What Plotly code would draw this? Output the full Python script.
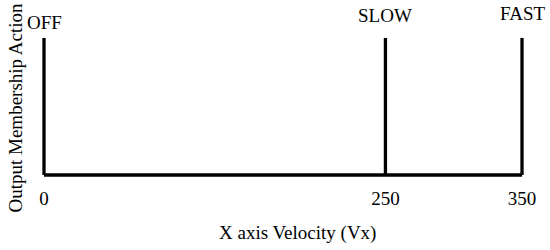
import plotly.graph_objects as go

# membership singletons for the output action
labels = ['OFF', 'SLOW', 'FAST']
velocity = [0, 250, 350]
membership = [1, 1, 1]
tick_text = ['0', '250', '350']

FONT = 'Liberation Serif, Times New Roman, serif'

# vertical spikes, joined with None gaps so they stay one trace
xs, ys = [], []
for v, m in zip(velocity, membership):
    xs += [v, v, None]
    ys += [0, m, None]

fig = go.Figure()
fig.add_trace(go.Scatter(x=xs, y=ys, mode='lines',
                         line=dict(color='black', width=3.3),
                         cliponaxis=False, showlegend=False))
# baseline along the velocity axis
fig.add_trace(go.Scatter(x=[velocity[0], velocity[-1]], y=[0, 0], mode='lines',
                         line=dict(color='black', width=3.3),
                         cliponaxis=False, showlegend=False))

# labels above each spike
yshift = [3, 10, 12]
for v, m, lab, sh in zip(velocity, membership, labels, yshift):
    fig.add_annotation(x=v, y=m, text=lab, showarrow=False,
                       yanchor='bottom', yshift=sh,
                       font=dict(family=FONT, size=19, color='black'))

# axis titles
fig.add_annotation(xref='paper', yref='paper', x=0.5, y=0, xshift=14, yshift=-48,
                   xanchor='center', yanchor='middle',
                   text='X axis Velocity (Vx)', showarrow=False,
                   font=dict(family=FONT, size=19, color='black'))
fig.add_annotation(xref='paper', yref='paper', x=0, y=0.5, xshift=-25, yshift=-1,
                   xanchor='center', yanchor='middle',
                   text='Output Membership Action', textangle=-90, showarrow=False,
                   font=dict(family=FONT, size=19, color='black'))

fig.update_layout(
    width=550, height=250,
    margin=dict(l=40, r=24, t=30, b=65),
    paper_bgcolor='white', plot_bgcolor='white',
    font=dict(family=FONT, size=19, color='black'),
    xaxis=dict(range=[-2.93, 352.93], showgrid=False, zeroline=False,
               showline=False, ticks='', tickvals=velocity, ticktext=tick_text,
               automargin=False),
    yaxis=dict(range=[-0.073, 1.058], showgrid=False, zeroline=False,
               showline=False, showticklabels=False, ticks='', automargin=False),
)

fig.write_html('out.html', config={'displayModeBar': False},
               post_script="document.body.style.margin='0';")
